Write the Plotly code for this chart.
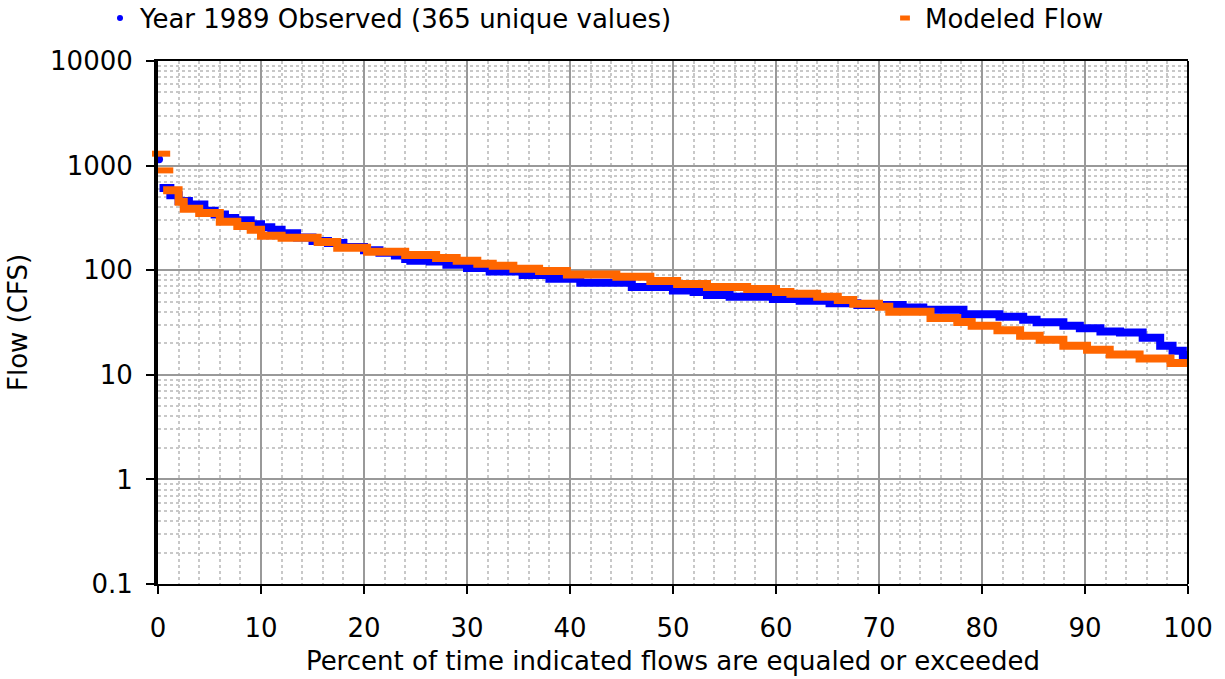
import plotly.graph_objects as go

# ---------------- data ----------------
obs_name = "Year 1989 Observed (365 unique values)"
mod_name = "Modeled Flow"

# isolated highest-flow points at the very start of each curve
obs_peak_pct = [0.1]
obs_peak_flow = [1150]
mod_peak_pct = [0.3, 0.6]
mod_peak_flow = [1300, 900]

obs_pct = [0.15, 1.2, 2.0, 3.0, 4.5, 5.5, 6.5, 7.5, 9.0, 10.0, 11.0, 12.0, 13.5,
           15.0, 16.5, 18.0, 20.0, 21.5, 23.0, 24.0, 24.5, 26.4, 28.0, 30.0, 32.2,
           35.4, 38.0, 41.0, 46.0, 50.0, 52.0, 53.3, 55.5, 59.7, 62.3, 65.2, 67.9,
           72.3, 74.3, 78.2, 81.7, 84.0, 85.3, 87.9, 89.5, 91.5, 93.4, 95.6, 97.3,
           98.5, 99.5, 100]
obs_flow = [610, 520, 460, 425, 370, 340, 315, 300, 275, 258, 243, 225, 205,
            190, 182, 167, 155, 147, 138, 128, 123, 121, 113, 105, 97,
            90, 83, 76, 69, 64, 62, 58, 55.7, 53, 51, 48.3, 46.5,
            44, 41.9, 38, 35.9, 33.6, 31.8, 29.5, 27.9, 26, 25.4, 22.6, 19,
            17, 15.5, 15]

mod_pct = [0.5, 2.0, 2.5, 4.0, 6.0, 7.7, 9.0, 10.0, 12.0, 15.5, 17.4, 20.3,
           24.0, 27.0, 29.0, 31.0, 32.5, 34.5, 37.0, 39.7, 44.5, 47.8, 50.4, 53.3,
           57.2, 60.0, 61.4, 64.0, 66.0, 67.5, 70.0, 71.0, 75.0, 77.6, 79.0, 81.5,
           83.7, 85.6, 87.9, 90.2, 92.4, 95.3, 98.3, 100]
mod_flow = [580, 450, 386, 353, 290, 265, 243, 214, 204, 186, 164, 150,
            140, 131, 123, 115, 110, 103, 98, 91, 86.5, 79, 74, 69,
            66, 62, 59.6, 55.7, 52, 47.8, 44.7, 40, 35, 32, 29.5, 26.7,
            23.6, 21.6, 19, 17.4, 15.6, 14.3, 13, 12.5]

x_tickvals = [0, 10, 20, 30, 40, 50, 60, 70, 80, 90, 100]
y_tickvals = [0.1, 1, 10, 100, 1000, 10000]
y_ticktext = ["0.1", "1", "10", "100", "1000", "10000"]

x_title = "Percent of time indicated flows are equaled or exceeded"
y_title = "Flow (CFS)"

BLUE = "#0000FF"
ORANGE = "#FF6600"
FONT = "DejaVu Sans"
FS = 26

fig = go.Figure()
fig.add_trace(go.Scatter(x=obs_pct, y=obs_flow, mode="lines",
                         line=dict(color=BLUE, width=8, shape="hv"),
                         showlegend=False, hoverinfo="skip", cliponaxis=False))
fig.add_trace(go.Scatter(x=obs_peak_pct, y=obs_peak_flow, mode="markers",
                         marker=dict(color=BLUE, size=8, symbol="circle"),
                         showlegend=False, hoverinfo="skip", cliponaxis=False))
fig.add_trace(go.Scatter(x=mod_pct, y=mod_flow, mode="lines",
                         line=dict(color=ORANGE, width=8, shape="hv"),
                         showlegend=False, hoverinfo="skip"))
fig.add_trace(go.Scatter(x=mod_peak_pct, y=mod_peak_flow, mode="markers",
                         marker=dict(color=ORANGE, size=13, symbol="line-ew",
                                     line=dict(color=ORANGE, width=6)),
                         showlegend=False, hoverinfo="skip", cliponaxis=False))
# legend entries
fig.add_trace(go.Scatter(x=[None], y=[None], mode="markers", name=obs_name,
                         marker=dict(color=BLUE, size=6, symbol="circle"),
                         legend="legend"))
fig.add_trace(go.Scatter(x=[None], y=[None], mode="markers", name=mod_name,
                         marker=dict(color=ORANGE, size=7, symbol="line-ew",
                                     line=dict(color=ORANGE, width=5)),
                         legend="legend2"))

fig.update_layout(
    width=1225, height=679,
    margin=dict(l=158, r=37, t=61, b=95),
    paper_bgcolor="white", plot_bgcolor="white",
    font=dict(family=FONT, size=FS, color="black"),
    legend=dict(orientation="h", xref="container", yref="container",
                x=100 / 1225, xanchor="left", y=1 - 18 / 679, yanchor="middle",
                font=dict(family=FONT, size=FS), bgcolor="rgba(0,0,0,0)"),
    legend2=dict(orientation="h", xref="container", yref="container",
                 x=885 / 1225, xanchor="left", y=1 - 18 / 679, yanchor="middle",
                 font=dict(family=FONT, size=FS), bgcolor="rgba(0,0,0,0)"),
)

fig.update_xaxes(
    range=[0, 100], tickvals=x_tickvals, showgrid=True, gridcolor="#999999", gridwidth=2,
    minor=dict(dtick=2, showgrid=True, gridcolor="#c8c8c8", griddash="dot", gridwidth=1.5,
               ticks=""),
    zeroline=False, showline=True, linecolor="black", linewidth=2, mirror=True,
    ticks="outside", ticklen=8, tickwidth=2, tickcolor="black",
    ticklabelstandoff=12, automargin=False,
    tickfont=dict(family=FONT, size=FS),
    title=dict(text=x_title, font=dict(family=FONT, size=FS), standoff=10),
)
fig.update_yaxes(
    type="log", range=[-1, 4], tickvals=y_tickvals, ticktext=y_ticktext,
    showgrid=True, gridcolor="#999999", gridwidth=2,
    minor=dict(dtick="D1", showgrid=True, gridcolor="#c8c8c8", griddash="dot", gridwidth=1.5,
               ticks=""),
    zeroline=False, showline=True, linecolor="black", linewidth=4,
    ticks="outside", ticklen=8, tickwidth=2, tickcolor="black",
    ticklabelstandoff=8, automargin=False,
    tickfont=dict(family=FONT, size=FS),
    title=dict(text=y_title, font=dict(family=FONT, size=FS), standoff=16),
)
# right border of the plot frame
fig.add_shape(type="line", xref="paper", yref="paper", x0=1, x1=1, y0=0, y1=1,
              line=dict(color="black", width=2))

fig.write_html("out.html", config={"displayModeBar": False},
               post_script="document.body.style.margin='0';")
